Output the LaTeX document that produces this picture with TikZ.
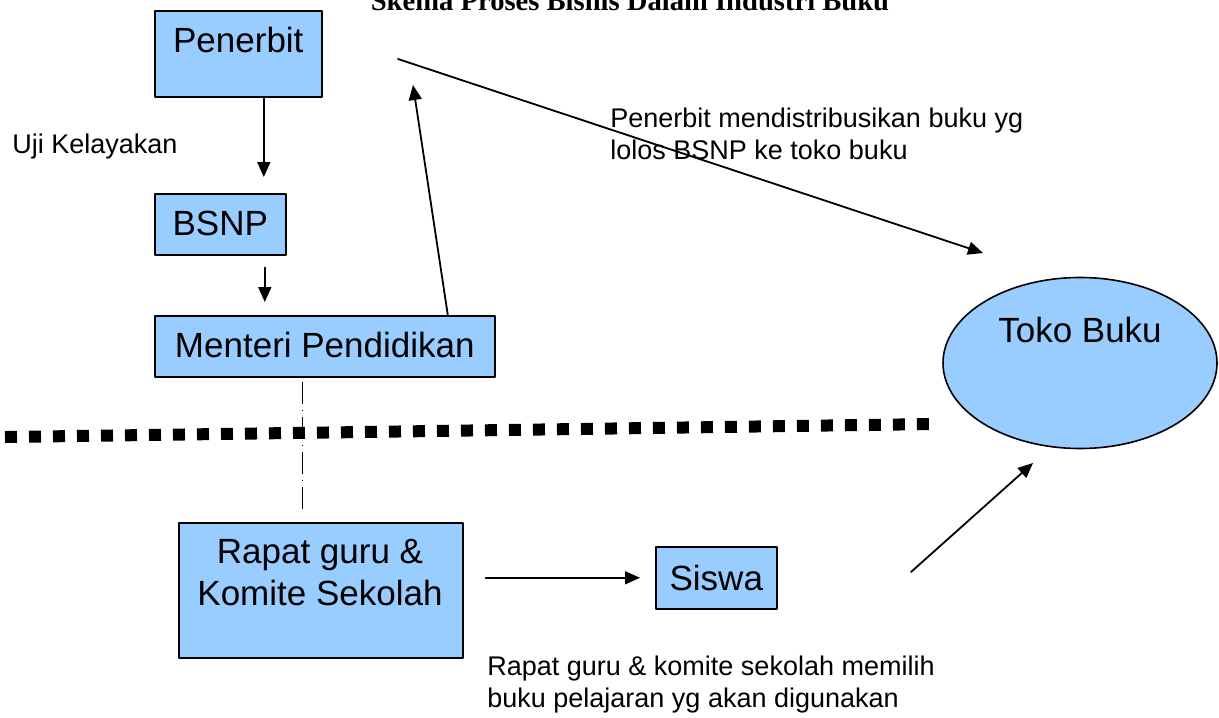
\documentclass[tikz,border=0pt]{standalone}
\usepackage{fontspec}
\setmainfont{Liberation Sans}
\newfontfamily\titlefont{Liberation Serif}
\usetikzlibrary{arrows.meta,shapes.geometric}
\definecolor{boxblue}{HTML}{99CCFF}

\begin{document}
\begin{tikzpicture}[x=0.5pt,y=-0.5pt,>={Triangle[length=7.5pt,width=6.5pt]},line cap=round,line join=round,
  box/.style={draw,line width=0.8pt,fill=boxblue,inner sep=0pt,font=\fontsize{17.5}{21}\selectfont},
  note/.style={inner sep=0pt,align=left,font=\fontsize{13.5}{16}\selectfont},
  arr/.style={->,line width=0.9pt}]
\useasboundingbox (0,0) rectangle (1219,717);
\node[anchor=base,font=\titlefont\bfseries\fontsize{14.3}{17}\selectfont] (title) at (630,11) {Skema Proses Bisnis Dalam Industri Buku};
% upper half
\node[box,anchor=north west,minimum width=83.5pt,text height=21pt,text depth=22pt] (penerbit) at (154,10) {Penerbit};
\node[box,anchor=north west,minimum width=65.5pt,text height=21pt,text depth=9.5pt] (bsnp) at (154,193) {BSNP};
\node[box,anchor=north west,minimum width=170pt,text height=21pt,text depth=9.5pt] (menteri) at (154,315) {Menteri Pendidikan};
\node[ellipse,draw,line width=0.8pt,fill=boxblue,minimum width=137pt,minimum height=85.5pt,inner sep=0pt,text height=10pt,text depth=31pt,font=\fontsize{17.5}{21}\selectfont] (toko) at (1080,363) {Toko Buku};
\node[note,anchor=base west] (uji) at (12,153) {Uji Kelayakan};
\node[note,anchor=north west] (distnote) at (610,108) {Penerbit mendistribusikan buku yg\\lolos BSNP ke toko buku};
% lower half
\node[box,anchor=north west,minimum width=142pt,minimum height=67.5pt] (rapat) at (178,522) {};
\node[anchor=north,align=center,inner sep=0pt,font=\fontsize{17.5}{21}\selectfont] (rapattext) at (320,539) {Rapat guru \&\\Komite Sekolah};
\node[box,anchor=north west,minimum width=60.5pt,text height=22pt,text depth=9pt] (siswa) at (655,546) {Siswa};
\node[note,anchor=north west] (pilihnote) at (487,656) {Rapat guru \& komite sekolah memilih\\buku pelajaran yg akan digunakan};
\coordinate (penerbitin) at (413,85);
\coordinate (penerbitout) at (398,59);
\coordinate (tokoin) at (983,253);
\coordinate (tokobelow) at (1033,463);
\coordinate (siswaout) at (911,572);
\coordinate (sepL) at (5,437);
\coordinate (sepR) at (935,424);
\draw[arr,shorten >=8pt] ([xshift=12.75pt]penerbit.south) -- ([xshift=21.75pt]bsnp.north);
\draw[arr,shorten <=6pt,shorten >=6.5pt] ([xshift=22.25pt]bsnp.south) -- ([xshift=-30pt]menteri.north);
\draw[arr] ([xshift=61.5pt]menteri.north) -- (penerbitin);
\draw[arr] (penerbitout) -- (tokoin);
\draw[arr,shorten <=11pt,shorten >=7.5pt] (rapat.east |- siswa.west) -- (siswa.west);
\draw[arr] (siswaout) -- (tokobelow);
\draw[line width=0.5pt,line cap=butt,dash pattern=on 11pt off 3pt on 0.5pt off 3pt,shorten <=2pt,shorten >=6pt] ([xshift=-11pt]menteri.south) -- ([xshift=-9pt]rapat.north);
\draw[line width=6pt,line cap=butt,dash pattern=on 6pt off 6pt] (sepL) -- (sepR);
\end{tikzpicture}
\end{document}
